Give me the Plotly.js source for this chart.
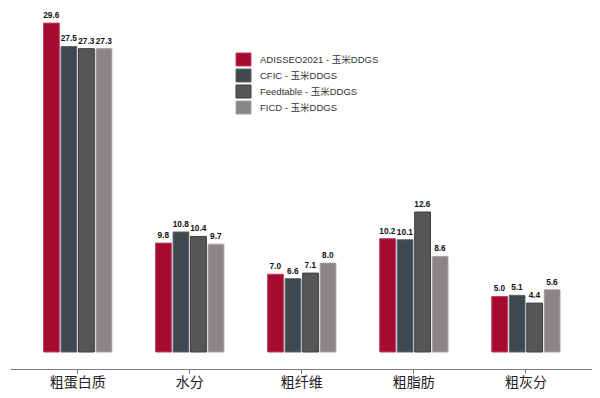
<!DOCTYPE html>
<html><head><meta charset="utf-8">
<script src="https://cdn.plot.ly/plotly-3.0.1.min.js"></script>
<style>html,body{margin:0;padding:0;background:#fff}#chart{width:600px;height:398px}</style>
</head><body><div id="chart"></div>
<script>
const categories = ["粗蛋白质", "水分", "粗纤维", "粗脂肪", "粗灰分"];
const seriesNames = ["ADISSEO2021 - 玉米DDGS", "CFIC - 玉米DDGS", "Feedtable - 玉米DDGS", "FICD - 玉米DDGS"];
const adisseo = [29.6, 9.8, 7.0, 10.2, 5.0];
const cfic = [27.5, 10.8, 6.6, 10.1, 5.1];
const feedtable = [27.3, 10.4, 7.1, 12.6, 4.4];
const ficd = [27.3, 9.7, 8.0, 8.6, 5.6];
const colors = ["#A50B2E", "#3E4850", "#565658", "#8B8585"];
const lineColors = ["#C04060", "#5A646B", "#3C3C3E", "#A8A2A2"];

const allSeries = [adisseo, cfic, feedtable, ficd];
const traces = allSeries.map((vals, i) => ({
  type: "bar",
  name: seriesNames[i],
  x: categories,
  y: vals,
  text: vals.map(v => v.toFixed(1)),
  textposition: "outside",
  constraintext: "none",
  cliponaxis: false,
  textfont: {family: "Liberation Sans, Arial, sans-serif", size: 8.3, weight: "bold", color: "#111"},
  marker: {color: colors[i], line: {color: lineColors[i], width: 1}},
  hoverinfo: "none",
  showlegend: false
}));

// custom legend (paper coordinates of plot area: x 11..592 px, y 0..369 px)
const plotL = 11, plotW = 581, plotH = 369;
const rowCenters = [59.5, 75.5, 91.5, 107.5];
const shapes = [], annotations = [];
seriesNames.forEach((name, i) => {
  const c = rowCenters[i];
  shapes.push({
    type: "rect", xref: "paper", yref: "paper",
    x0: (236 - plotL) / plotW, x1: (251 - plotL) / plotW,
    y0: 1 - (c + 6.5) / plotH, y1: 1 - (c - 6.5) / plotH,
    fillcolor: colors[i], line: {color: lineColors[i], width: 1}
  });
  annotations.push({
    xref: "paper", yref: "paper",
    x: (258 - plotL) / plotW, y: 1 - c / plotH,
    xanchor: "left", yanchor: "middle", showarrow: false,
    text: name,
    font: {family: "Liberation Sans, Noto Sans CJK SC, sans-serif", size: 9.5, color: "#333"}
  });
});

const layout = {
  width: 600, height: 398,
  margin: {l: 11, r: 8, t: 0, b: 29},
  paper_bgcolor: "#fff", plot_bgcolor: "#fff",
  barmode: "group",
  bargap: 0.375,
  bargroupgap: 0.1,
  showlegend: false,
  shapes: shapes,
  annotations: annotations,
  xaxis: {
    type: "category",
    range: [-0.595, 4.59],
    showline: true, linecolor: "#7a7a7a", linewidth: 1.3,
    ticks: "outside", ticklen: 4, tickcolor: "#7a7a7a",
    ticklabelstandoff: -4,
    tickfont: {family: "Noto Sans CJK SC, sans-serif", size: 14, color: "#222"},
    showgrid: false, zeroline: false
  },
  yaxis: {
    range: [-1.53, 31.68],
    visible: false, showgrid: false, zeroline: false
  }
};
Plotly.newPlot("chart", traces, layout, {displayModeBar: false, staticPlot: true});
</script>
</body></html>
